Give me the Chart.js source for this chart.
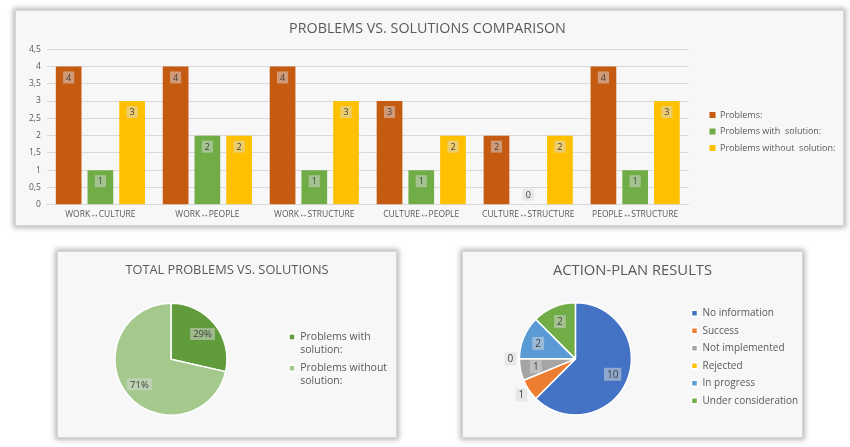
<!DOCTYPE html>
<html>
<head>
<meta charset="utf-8">
<script src="https://cdn.jsdelivr.net/npm/chart.js@4.4.0/dist/chart.umd.min.js"></script>
<style>
body { margin:0; background:#fff; width:850px; height:447px; position:relative; overflow:hidden; }
.panel { position:absolute; box-sizing:border-box; background:#f7f7f7; border:1px solid #d6d6d6; box-shadow:0 0 5px 2px rgba(0,0,0,0.28); }
.panel canvas { position:absolute; left:-1px; top:-1px; }
</style>
</head>
<body>
<div class="panel" style="left:15px;top:10px;width:829px;height:216px"><canvas id="bars" width="829" height="216"></canvas></div>
<div class="panel" style="left:57px;top:251px;width:340px;height:187px"><canvas id="total" width="340" height="187"></canvas></div>
<div class="panel" style="left:462px;top:251px;width:341px;height:187px"><canvas id="plan" width="341" height="187"></canvas></div>
<script>
const FONT = '"Open Sans", sans-serif'
const GREY = '#595959'

// data
const categories = ["WORK↔CULTURE","WORK↔PEOPLE","WORK↔STRUCTURE","CULTURE↔PEOPLE","CULTURE↔STRUCTURE","PEOPLE↔STRUCTURE"]
const seriesNames = ["Problems:","Problems with  solution:","Problems without  solution:"]
const problems = [4,4,4,3,2,4]
const withSolution = [1,2,1,1,0,1]
const withoutSolution = [3,2,3,2,2,3]

const totalNames = [["Problems with","solution:"],["Problems without","solution:"]]
const totalValues = [6,15]

const planNames = ["No information","Success","Not implemented","Rejected","In progress","Under consideration"]
const planValues = [10,1,1,0,2,2]

// little boxed value labels like the excel ones
const labelBoxes = {
  id: 'labelBoxes',
  afterDatasetsDraw(chart, args, opts) {
    const ctx = chart.ctx
    ctx.save()
    ctx.font = (opts.size || 9) + 'px ' + FONT
    ctx.textAlign = 'center'
    ctx.textBaseline = 'middle'
    chart.data.datasets.forEach((ds, di) => {
      const meta = chart.getDatasetMeta(di)
      let total = ds.data.reduce((a, b) => a + b, 0)
      meta.data.forEach((el, i) => {
        const v = ds.data[i]
        let txt = opts.percent ? Math.round(v / total * 100) + '%' : String(v)
        let x, y
        if (meta.type == 'bar') {
          x = el.x
          y = v == 0 ? el.base - 10 : el.y + 11
        } else {
          const mid = (el.startAngle + el.endAngle) / 2
          const f = opts.outside && opts.outside[i] ? 1.16 : 0.72
          x = el.x + Math.cos(mid) * el.outerRadius * f
          y = el.y + Math.sin(mid) * el.outerRadius * f
        }
        const w = ctx.measureText(txt).width + 6
        const h = opts.boxH || 12
        ctx.fillStyle = 'rgba(217,217,217,0.5)'
        ctx.fillRect(x - w / 2, y - h / 2, w, h)
        ctx.fillStyle = '#404040'
        ctx.fillText(txt, x, y + 0.5)
      })
    })
    ctx.restore()
  }
}

// move the legend box to a fixed x, and down a bit
const legendX = {
  id: 'legendX',
  afterLayout(chart, args, opts) {
    if (opts.x == null || !chart.legend) return
    const dx = opts.x - chart.legend.left
    const dy = opts.dy || 0
    chart.legend.left += dx
    chart.legend.right += dx
    chart.legend.top += dy
    chart.legend.bottom += dy
    if (opts.areaDx) {
      chart.chartArea.left += opts.areaDx
      chart.chartArea.right += opts.areaDx
    }
  }
}

new Chart(document.getElementById('bars'), {
  type: 'bar',
  data: {
    labels: categories,
    datasets: [
      { label: seriesNames[0], data: problems, backgroundColor: '#C55A11' },
      { label: seriesNames[1], data: withSolution, backgroundColor: '#70AD47' },
      { label: seriesNames[2], data: withoutSolution, backgroundColor: '#FFC000' }
    ]
  },
  options: {
    responsive: false,
    animation: false,
    layout: { padding: { left: 8, right: 12, top: 0, bottom: 1 } },
    datasets: { bar: { categoryPercentage: 0.89, barPercentage: 0.81 } },
    plugins: {
      title: { display: true, text: 'PROBLEMS VS. SOLUTIONS COMPARISON', color: GREY,
        font: { family: FONT, size: 14.3, weight: 'normal' }, padding: { top: 10, bottom: 12 } },
      legend: { position: 'right',
        labels: { usePointStyle: true, pointStyle: 'rect', boxWidth: 6, boxHeight: 6, padding: 7.5,
          color: GREY, font: { family: FONT, size: 9 } } },
      tooltip: { enabled: false },
      labelBoxes: { size: 9 },
      legendX: { x: 687, dy: 14 }
    },
    scales: {
      x: { grid: { display: false, drawTicks: false }, border: { color: '#d9d9d9' },
        ticks: { color: GREY, font: { family: FONT, size: 8.5 }, padding: 5, maxRotation: 0, autoSkip: false } },
      y: { min: 0, max: 4.5, grid: { color: '#d9d9d9', drawTicks: false }, border: { display: false },
        ticks: { stepSize: 0.5, color: GREY, font: { family: FONT, size: 8.5 }, padding: 6,
          callback: v => String(v).replace('.', ',') } }
    }
  },
  plugins: [labelBoxes, legendX]
})

new Chart(document.getElementById('total'), {
  type: 'pie',
  data: {
    labels: totalNames,
    datasets: [{ data: totalValues, backgroundColor: ['#609B3C', '#A5C98D'], borderColor: '#fff', borderWidth: 1.5 }]
  },
  options: {
    responsive: false,
    animation: false,
    radius: 56,
    layout: { padding: { left: 0, right: 0, top: 0, bottom: 19 } },
    plugins: {
      title: { display: true, text: 'TOTAL PROBLEMS VS. SOLUTIONS', color: GREY,
        font: { family: FONT, size: 12.8, weight: 'normal' }, padding: { top: 12, bottom: 21 } },
      legend: { position: 'right',
        labels: { usePointStyle: true, pointStyle: 'rect', boxWidth: 6, boxHeight: 6, padding: 6,
          color: GREY, font: { family: FONT, size: 10.5 } } },
      tooltip: { enabled: false },
      labelBoxes: { size: 9.5, percent: true, boxH: 12 },
      legendX: { x: 226, dy: 25, areaDx: 1 }
    }
  },
  plugins: [labelBoxes, legendX]
})

new Chart(document.getElementById('plan'), {
  type: 'pie',
  data: {
    labels: planNames,
    datasets: [{ data: planValues,
      backgroundColor: ['#4472C4', '#ED7D31', '#A5A5A5', '#FFC000', '#5B9BD5', '#70AD47'],
      borderColor: '#fff', borderWidth: 1.5 }]
  },
  options: {
    responsive: false,
    animation: false,
    radius: 56,
    layout: { padding: { left: 0, right: 0, top: 0, bottom: 19 } },
    plugins: {
      title: { display: true, text: 'ACTION-PLAN RESULTS', color: GREY,
        font: { family: FONT, size: 14.75, weight: 'normal' }, padding: { top: 11, bottom: 19 } },
      legend: { position: 'right',
        labels: { usePointStyle: true, pointStyle: 'rect', boxWidth: 6, boxHeight: 6, padding: 7.5,
          color: GREY, font: { family: FONT, size: 10 } } },
      tooltip: { enabled: false },
      labelBoxes: { size: 10, outside: [false, true, false, true, false, false], boxH: 13 },
      legendX: { x: 222, dy: 22, areaDx: 5 }
    }
  },
  plugins: [labelBoxes, legendX]
})
</script>
</body>
</html>
